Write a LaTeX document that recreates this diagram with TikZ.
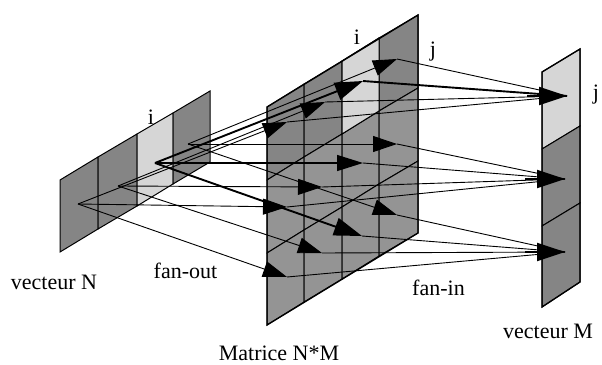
\documentclass[tikz,border=0pt]{standalone}
\usepackage{fontspec}
\setmainfont{Liberation Serif}
\usetikzlibrary{arrows.meta}
\definecolor{darkcell}{gray}{0.52}
\definecolor{midcell}{gray}{0.58}
\definecolor{lightcell}{gray}{0.84}
\tikzset{
  x=1pt,y=-1pt,
  cell/.style={draw=black,line width=1pt,fill=darkcell},
  lightc/.style={draw=black,line width=1pt,fill=lightcell},
  outl/.style={draw=black,line width=1.3pt},
  fan/.style={line width=0.9pt,-{Triangle[length=24pt,width=16pt]}},
  fanm/.style={line width=1.3pt,-{Triangle[length=26pt,width=16pt]}},
  fanb/.style={line width=1.9pt,-{Triangle[length=28pt,width=18pt]}},
  plain/.style={line width=0.9pt},
  plainb/.style={line width=1.9pt},
  lab/.style={font=\fontsize{22}{26}\selectfont,inner sep=0pt,text=black},
}
\begin{document}
\begin{tikzpicture}
\useasboundingbox (0,0) rectangle (602,364);
% vecteur N
\filldraw[cell] (60,180) -- (98,157) -- (98,229) -- (60,252) -- cycle;
\filldraw[cell] (98,157) -- (137,134) -- (137,206) -- (98,229) -- cycle;
\filldraw[lightc] (137,134) -- (173,113) -- (173,184) -- (137,206) -- cycle;
\filldraw[cell] (173,113) -- (210,91) -- (210,162) -- (173,184) -- cycle;
% matrix
\foreach \xa/\xb/\ya/\yb in {267/304/107/84,304/342/84/61,342/379/61/38,379/418/38/15}{
  \filldraw[cell] (\xa,\ya) -- (\xb,\yb) -- (\xb,\yb+73) -- (\xa,\ya+73) -- cycle;
  \filldraw[cell,fill=midcell] (\xa,\ya+73) -- (\xb,\yb+73) -- (\xb,\yb+146) -- (\xa,\ya+146) -- cycle;
  \filldraw[cell,fill=midcell] (\xa,\ya+146) -- (\xb,\yb+146) -- (\xb,\yb+218) -- (\xa,\ya+218) -- cycle;
}
\filldraw[lightc] (342,61) -- (379,38) -- (379,111) -- (342,134) -- cycle;
\draw[outl] (267,107) -- (418,15) -- (418,233) -- (267,325) -- cycle;
% vecteur M
\filldraw[lightc] (542,72) -- (580,49) -- (580,126) -- (542,149) -- cycle;
\filldraw[cell] (542,149) -- (580,126) -- (580,203) -- (542,226) -- cycle;
\filldraw[cell] (542,226) -- (580,203) -- (580,282) -- (542,307) -- cycle;
\draw[outl] (542,72) -- (580,49) -- (580,282) -- (542,307) -- cycle;
% anchors
\coordinate (A) at (78,204);
\coordinate (B) at (118,186);
\coordinate (C) at (155,163);
\coordinate (D) at (188,144);
\coordinate (a1) at (287,122); \coordinate (b1) at (325,102); \coordinate (c1) at (363,81); \coordinate (d1) at (397,59);
\coordinate (a2) at (287,207); \coordinate (b2) at (322,187); \coordinate (c2) at (363,163); \coordinate (d2) at (397,144);
\coordinate (a3) at (287,277); \coordinate (b3) at (322,253); \coordinate (c3) at (362,236); \coordinate (d3) at (397,215);
\coordinate (m1) at (567,96); \coordinate (m2) at (565,179); \coordinate (m3) at (565,252);
% fan-in
\foreach \p in {a1,b1,d1} \draw[plain] (\p) -- (m1);
\draw[plainb] (c1) -- (m1);
\foreach \p in {a2,b2,c2,d2} \draw[plain] (\p) -- (m2);
\foreach \p in {a3,b3,c3,d3} \draw[plain] (\p) -- (m3);
% fan-out
\foreach \s/\p in {A/a1,A/a2,A/a3,B/b1,B/b2,B/b3,D/d1,D/d2,D/d3} \draw[fan] (\s) -- (\p);
\draw[fanm] (C) -- (c2);
\draw[fanb] (C) -- (c1);
\draw[fanb] (C) -- (c3);
% M heads
\coordinate (h1) at (527,96); \coordinate (h2) at (525,179); \coordinate (h3) at (525,252);
\draw[fanb] (h1) -- (m1);
\draw[fanb] (h2) -- (m2);
\draw[fanb] (h3) -- (m3);
% labels
\node[lab] (iN) at (151,117) {i};
\node[lab] (iM) at (357,37) {i};
\node[lab] (jM) at (433,52) {j};
\node[lab] (jV) at (596,95) {j};
\node[lab] (vN) at (54,282) {vecteur N};
\node[lab] (fo) at (185.5,271) {fan-out};
\node[lab] (fi) at (438.5,288) {fan-in};
\node[lab] (vM) at (548,331) {vecteur M};
\node[lab] (mat) at (279,353) {Matrice N*M};
\end{tikzpicture}
\end{document}
